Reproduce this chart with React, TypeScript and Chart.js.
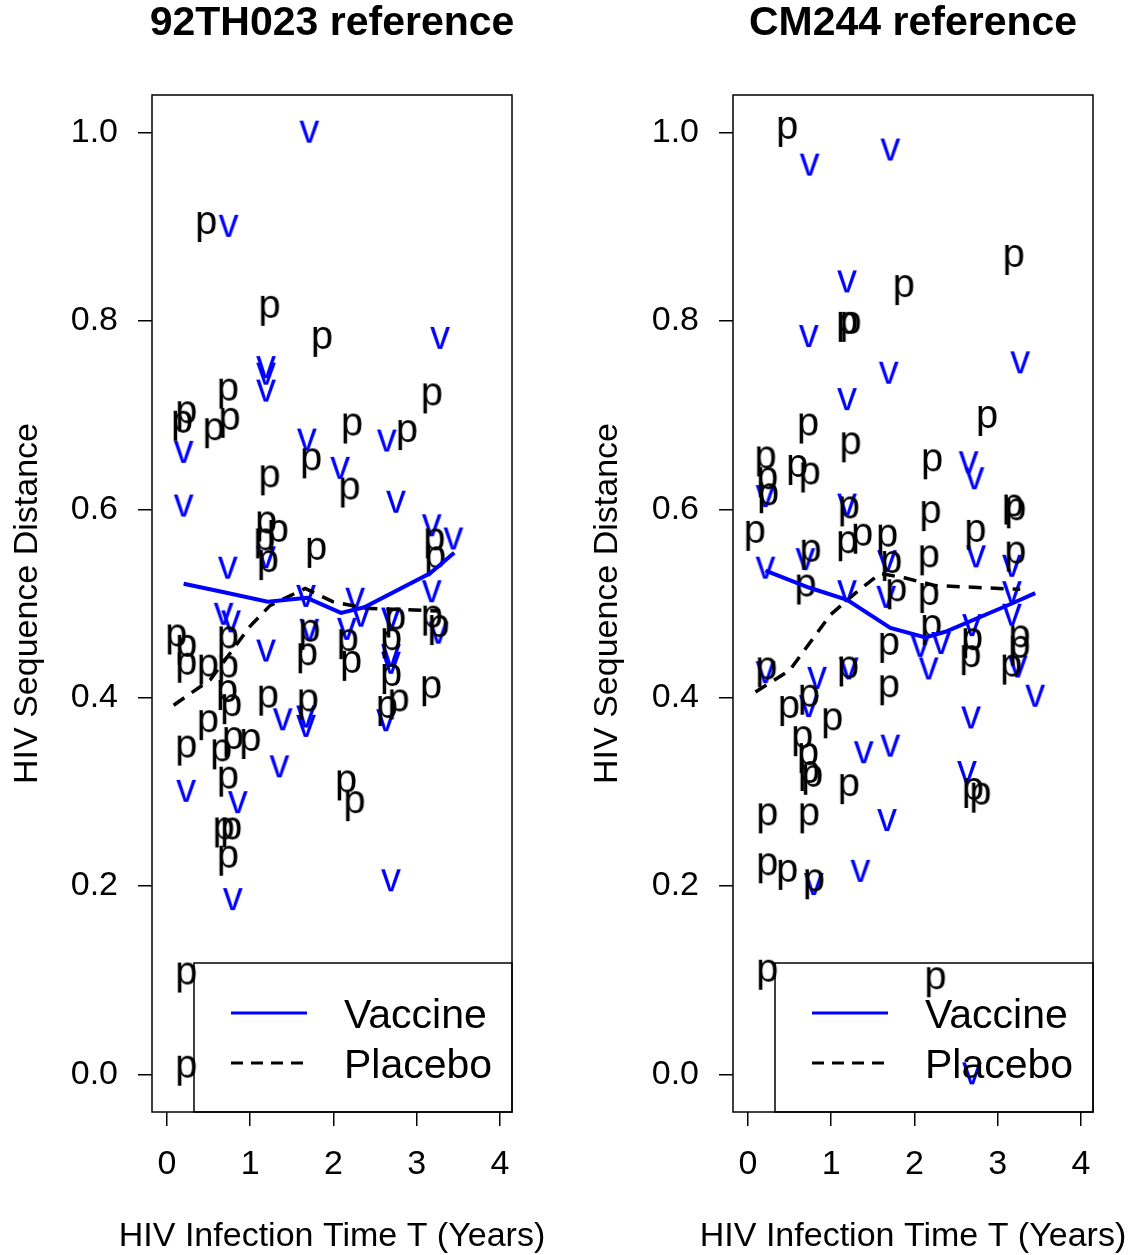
import React, { useEffect, useRef } from 'react';
import { Chart, registerables } from 'chart.js';

Chart.register(...registerables);

// ---------- tick labels ----------
const xTicks = [0, 1, 2, 3, 4];
const yTicks = [0, 0.2, 0.4, 0.6, 0.8, 1.0];

// ---------- panel titles / labels ----------
const panelTitles = ['92TH023 reference', 'CM244 reference'];
const xAxisTitle = 'HIV Infection Time T (Years)';
const yAxisTitle = 'HIV Sequence Distance';
const legendLabels = ['Vaccine', 'Placebo'];

// ---------- Panel 1 (92TH023) ----------
const p1VaccineX = [1.71, 0.74, 3.28, 1.19, 1.19, 1.19, 0.20, 1.68, 2.64, 2.08, 0.20, 2.75, 3.18, 3.44, 1.19, 0.73, 3.18, 1.67, 2.26, 2.33, 0.68, 0.77, 2.69, 1.71, 2.16, 3.26, 1.19, 2.69, 2.69, 1.39, 1.67, 1.67, 2.63, 1.35, 0.23, 0.85, 0.79, 2.69];
const p1VaccineY = [1.000, 0.900, 0.781, 0.750, 0.743, 0.725, 0.660, 0.673, 0.672, 0.643, 0.603, 0.607, 0.582, 0.568, 0.548, 0.537, 0.512, 0.507, 0.504, 0.486, 0.488, 0.480, 0.483, 0.471, 0.472, 0.468, 0.449, 0.444, 0.436, 0.376, 0.379, 0.369, 0.375, 0.326, 0.300, 0.288, 0.185, 0.205];
const p1PlaceboX = [0.47, 1.23, 1.86, 0.73, 3.18, 0.23, 0.18, 0.56, 0.75, 2.22, 2.88, 1.73, 1.23, 2.19, 1.19, 1.33, 1.17, 1.21, 1.79, 3.21, 3.22, 3.18, 3.26, 2.74, 0.11, 0.23, 0.73, 1.71, 2.17, 2.69, 1.68, 0.23, 0.49, 0.73, 2.21, 2.69, 0.72, 0.77, 1.21, 1.69, 2.78, 2.64, 3.17, 0.49, 0.23, 0.65, 0.79, 1.00, 0.73, 2.15, 2.25, 0.68, 0.77, 0.73, 0.23, 0.23];
const p1PlaceboY = [0.903, 0.814, 0.781, 0.726, 0.721, 0.702, 0.692, 0.684, 0.695, 0.689, 0.682, 0.652, 0.634, 0.621, 0.585, 0.576, 0.567, 0.544, 0.557, 0.567, 0.548, 0.485, 0.475, 0.483, 0.465, 0.454, 0.463, 0.470, 0.460, 0.461, 0.445, 0.435, 0.433, 0.432, 0.437, 0.423, 0.406, 0.391, 0.400, 0.396, 0.396, 0.389, 0.410, 0.374, 0.347, 0.343, 0.356, 0.354, 0.314, 0.310, 0.288, 0.260, 0.260, 0.230, 0.106, 0.007];
const p1VaccineLineX = [0.20, 0.63, 1.21, 1.68, 2.09, 2.37, 3.16, 3.45];
const p1VaccineLineY = [0.521, 0.513, 0.502, 0.506, 0.490, 0.496, 0.532, 0.554];
const p1PlaceboLineX = [0.08, 0.52, 1.00, 1.24, 1.66, 1.99, 2.38, 3.28];
const p1PlaceboLineY = [0.392, 0.419, 0.476, 0.498, 0.516, 0.502, 0.495, 0.492];

// ---------- Panel 2 (CM244) ----------
const p2VaccineX = [0.74, 1.71, 1.19, 0.73, 1.69, 3.27, 1.19, 2.65, 2.72, 0.21, 1.19, 0.21, 0.69, 1.67, 2.74, 3.17, 1.19, 1.66, 3.17, 3.17, 2.69, 2.07, 2.32, 2.17, 3.24, 3.45, 2.68, 0.21, 1.21, 0.83, 0.73, 1.39, 1.71, 2.63, 1.67, 1.35, 0.79, 2.69];
const p2VaccineY = [0.965, 0.981, 0.841, 0.783, 0.744, 0.755, 0.716, 0.649, 0.632, 0.613, 0.604, 0.537, 0.546, 0.544, 0.549, 0.539, 0.512, 0.506, 0.511, 0.487, 0.476, 0.454, 0.457, 0.430, 0.432, 0.401, 0.378, 0.426, 0.430, 0.420, 0.390, 0.341, 0.348, 0.320, 0.269, 0.215, 0.201, 0.000];
const p2PlaceboX = [0.47, 3.19, 1.87, 1.19, 1.23, 0.72, 2.87, 1.23, 0.21, 0.59, 0.74, 2.21, 0.23, 0.24, 3.18, 3.21, 1.21, 2.19, 0.08, 1.19, 1.37, 1.67, 2.73, 0.75, 2.17, 3.21, 1.72, 0.69, 1.78, 2.17, 2.20, 2.69, 2.67, 3.26, 3.26, 3.16, 1.69, 1.69, 1.20, 0.22, 0.49, 0.73, 1.01, 0.65, 0.72, 0.73, 0.77, 1.21, 2.70, 2.79, 0.23, 0.73, 0.23, 0.47, 0.79, 0.23, 2.25];
const p2PlaceboY = [1.004, 0.868, 0.836, 0.797, 0.797, 0.689, 0.697, 0.669, 0.654, 0.645, 0.637, 0.651, 0.632, 0.615, 0.603, 0.599, 0.601, 0.596, 0.575, 0.564, 0.572, 0.571, 0.576, 0.555, 0.549, 0.553, 0.543, 0.518, 0.513, 0.509, 0.475, 0.461, 0.443, 0.464, 0.453, 0.433, 0.456, 0.411, 0.431, 0.430, 0.389, 0.401, 0.376, 0.357, 0.339, 0.320, 0.316, 0.306, 0.302, 0.297, 0.275, 0.275, 0.222, 0.215, 0.205, 0.109, 0.101];
const p2VaccineLineX = [0.21, 0.73, 1.19, 1.71, 2.13, 2.37, 3.17, 3.45];
const p2VaccineLineY = [0.535, 0.517, 0.504, 0.474, 0.464, 0.470, 0.500, 0.511];
const p2PlaceboLineX = [0.09, 0.50, 0.99, 1.29, 1.59, 1.89, 2.25, 3.27];
const p2PlaceboLineY = [0.406, 0.429, 0.488, 0.511, 0.532, 0.527, 0.519, 0.515];

// ---------- styling ----------
const FONT = '"Liberation Sans", Arial, Helvetica, sans-serif';
const BLUE = '#0000ff';
const GLYPH_SIZE = 40;

function zip(xs: number[], ys: number[]) {
  return xs.map((x, i) => ({ x, y: ys[i] }));
}

function makeGlyph(ch: string, color: string): HTMLCanvasElement {
  const c = document.createElement('canvas');
  c.width = 44;
  c.height = 50;
  const ctx = c.getContext('2d')!;
  ctx.font = `${GLYPH_SIZE}px ${FONT}`;
  ctx.fillStyle = color;
  ctx.textAlign = 'center';
  ctx.textBaseline = 'alphabetic';
  // x-height centre of the letter sits on the data point
  ctx.fillText(ch, 22, 25 + (GLYPH_SIZE * 0.519) / 2);
  return c;
}

const framePlugin = {
  id: 'frameAndLegend',
  afterDraw(chart: any) {
    const { ctx, chartArea: a } = chart;
    const cx = (a.left + a.right) / 2;
    ctx.save();
    // main title
    ctx.fillStyle = '#000';
    ctx.font = `bold 41px ${FONT}`;
    ctx.textAlign = 'center';
    ctx.textBaseline = 'middle';
    ctx.fillText(chart.options.plugins.panelTitle.text, cx, 24);
    // x-axis title (full width, like R)
    ctx.font = `34px ${FONT}`;
    ctx.fillText(xAxisTitle, cx, 1237);

    ctx.strokeStyle = '#000';
    ctx.lineWidth = 1.5;
    ctx.setLineDash([]);
    ctx.strokeRect(a.left, a.top, a.right - a.left, a.bottom - a.top);
    // legend box (bottom right)
    const W = 318;
    const H = 149;
    const lx = a.right - W;
    const ly = a.bottom - H;
    ctx.strokeRect(lx, ly, W, H);
    const ds = chart.data.datasets;
    const rows = [a.bottom - 99, a.bottom - 49];
    for (let i = 0; i < 2; i++) {
      ctx.beginPath();
      ctx.strokeStyle = ds[i].borderColor;
      ctx.lineWidth = 3.2;
      ctx.setLineDash(i === 1 ? [12, 8] : []);
      ctx.moveTo(lx + 37, rows[i]);
      ctx.lineTo(lx + 113, rows[i]);
      ctx.stroke();
      ctx.setLineDash([]);
      ctx.fillStyle = '#000';
      ctx.font = `41px ${FONT}`;
      ctx.textAlign = 'left';
      ctx.textBaseline = 'alphabetic';
      ctx.fillText(legendLabels[i], lx + 150, rows[i] + 15);
    }
    ctx.restore();
  },
};

type Panel = {
  title: string;
  vx: number[]; vy: number[];
  px: number[]; py: number[];
  vlx: number[]; vly: number[];
  plx: number[]; ply: number[];
  yAxisWidth: number;
  rightPad: number;
  yTitlePad: number;
};

function buildConfig(p: Panel, glyphP: HTMLCanvasElement, glyphV: HTMLCanvasElement): any {
  const gridOpts = {
    display: true,
    drawOnChartArea: false,
    drawTicks: true,
    tickLength: 14,
    color: '#000',
    lineWidth: 1.5,
  };
  return {
    type: 'scatter',
    data: {
      datasets: [
        {
          label: legendLabels[0],
          data: zip(p.vlx, p.vly),
          showLine: true,
          borderColor: BLUE,
          backgroundColor: BLUE,
          borderWidth: 4,
          pointRadius: 0,
          tension: 0,
          order: 0,
        },
        {
          label: legendLabels[1],
          data: zip(p.plx, p.ply),
          showLine: true,
          borderColor: '#000',
          backgroundColor: '#000',
          borderWidth: 3.5,
          borderDash: [13, 9],
          pointRadius: 0,
          tension: 0,
          order: 1,
        },
        {
          label: 'placebo points',
          data: zip(p.px, p.py),
          showLine: false,
          pointStyle: glyphP,
          pointRadius: 3,
          order: 2,
        },
        {
          label: 'vaccine points',
          data: zip(p.vx, p.vy),
          showLine: false,
          pointStyle: glyphV,
          pointRadius: 3,
          order: 3,
        },
      ],
    },
    options: {
      responsive: false,
      animation: false,
      devicePixelRatio: 1,
      layout: { padding: { left: 0, right: p.rightPad, top: 95, bottom: 0 } },
      plugins: {
        legend: { display: false },
        tooltip: { enabled: false },
        title: { display: false },
        panelTitle: { text: p.title },
      },
      scales: {
        x: {
          type: 'linear',
          min: -0.18,
          max: 4.144,
          afterBuildTicks: (s: any) => {
            s.ticks = xTicks.map((v) => ({ value: v }));
          },
          afterFit: (s: any) => {
            s.height = 143;
          },
          grid: gridOpts,
          border: { display: false },
          ticks: {
            color: '#000',
            font: { size: 34, family: FONT, lineHeight: 1 },
            padding: 22,
            maxRotation: 0,
            autoSkip: false,
            callback: (v: any) => String(v),
          },
          title: { display: false },
        },
        y: {
          type: 'linear',
          min: -0.04,
          max: 1.04,
          afterBuildTicks: (s: any) => {
            s.ticks = yTicks.map((v) => ({ value: v }));
          },
          afterFit: (s: any) => {
            s.width = p.yAxisWidth;
          },
          grid: gridOpts,
          border: { display: false },
          ticks: {
            color: '#000',
            font: { size: 34, family: FONT, lineHeight: 1 },
            padding: 20,
            autoSkip: false,
            callback: (v: any) => Number(v).toFixed(1),
          },
          title: {
            display: true,
            text: yAxisTitle,
            color: '#000',
            font: { size: 34, family: FONT, lineHeight: 1 },
            padding: { top: p.yTitlePad, bottom: 0 },
          },
        },
      },
    },
    plugins: [framePlugin],
  };
}

export default function App() {
  const leftRef = useRef<HTMLCanvasElement>(null);
  const rightRef = useRef<HTMLCanvasElement>(null);

  useEffect(() => {
    const glyphP = makeGlyph('p', '#000');
    const glyphV = makeGlyph('v', BLUE);
    const panel1: Panel = {
      title: panelTitles[0],
      vx: p1VaccineX, vy: p1VaccineY, px: p1PlaceboX, py: p1PlaceboY,
      vlx: p1VaccineLineX, vly: p1VaccineLineY, plx: p1PlaceboLineX, ply: p1PlaceboLineY,
      yAxisWidth: 152, rightPad: 58, yTitlePad: 11,
    };
    const panel2: Panel = {
      title: panelTitles[1],
      vx: p2VaccineX, vy: p2VaccineY, px: p2PlaceboX, py: p2PlaceboY,
      vlx: p2VaccineLineX, vly: p2VaccineLineY, plx: p2PlaceboLineX, ply: p2PlaceboLineY,
      yAxisWidth: 163, rightPad: 46, yTitlePad: 21,
    };
    const c1 = new Chart(leftRef.current!, buildConfig(panel1, glyphP, glyphV));
    const c2 = new Chart(rightRef.current!, buildConfig(panel2, glyphP, glyphV));
    return () => {
      c1.destroy();
      c2.destroy();
    };
  }, []);

  return (
    <div style={{ position: 'absolute', left: 0, top: 0, width: 1139, height: 1255, background: '#ffffff' }}>
      <canvas ref={leftRef} width={570} height={1255} style={{ position: 'absolute', left: 0, top: 0 }} />
      <canvas ref={rightRef} width={569} height={1255} style={{ position: 'absolute', left: 570, top: 0 }} />
    </div>
  );
}
